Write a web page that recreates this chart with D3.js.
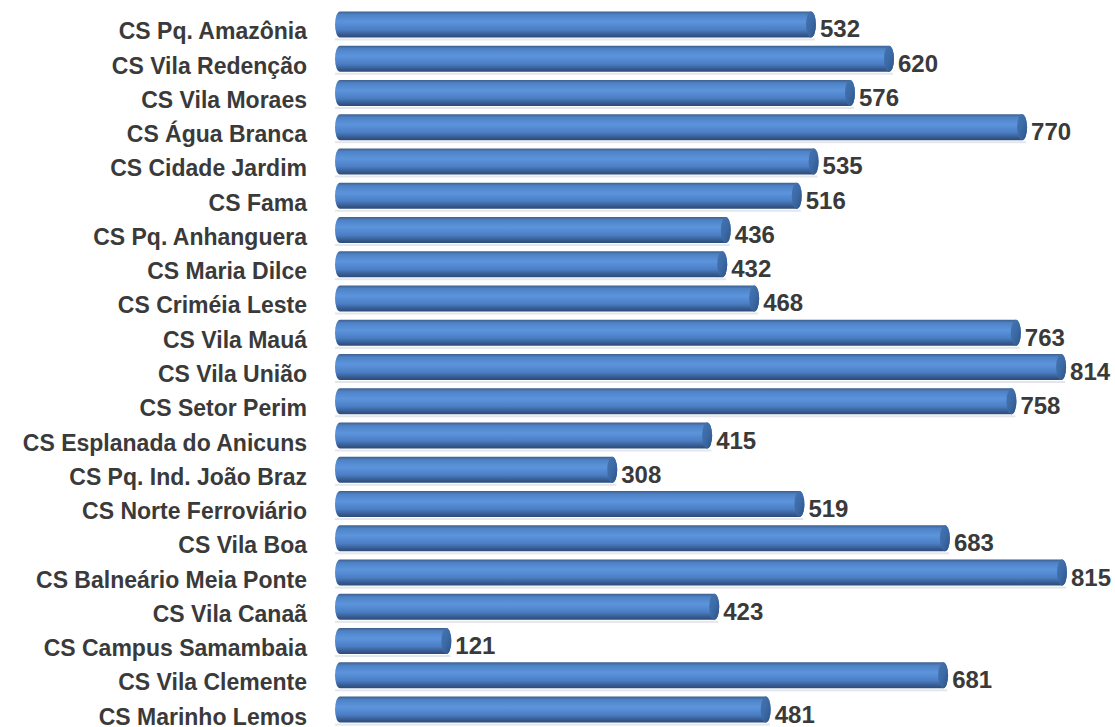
<!DOCTYPE html>
<html><head><meta charset="utf-8">
<script src="https://cdn.jsdelivr.net/npm/d3@7"></script>
<style>body{margin:0;background:#fff;} text{font-family:"Liberation Sans",Arial,sans-serif;font-weight:bold;}</style>
</head><body>
<svg id="c" width="1115" height="727"></svg>
<script>
const categories = ["CS Pq. Amazônia","CS Vila Redenção","CS Vila Moraes","CS Água Branca","CS Cidade Jardim","CS Fama","CS Pq. Anhanguera","CS Maria Dilce","CS Criméia Leste","CS Vila Mauá","CS Vila União","CS Setor Perim","CS Esplanada do Anicuns","CS Pq. Ind. João Braz","CS Norte Ferroviário","CS Vila Boa","CS Balneário Meia Ponte","CS Vila Canaã","CS Campus Samambaia","CS Vila Clemente","CS Marinho Lemos"];
const values = [532,620,576,770,535,516,436,432,468,763,814,758,415,308,519,683,815,423,121,681,481];

const svg = d3.select("#c");
const defs = svg.append("defs");
const g1 = defs.append("linearGradient").attr("id","body").attr("x1",0).attr("y1",0).attr("x2",0).attr("y2",1);
[[0,"#3d5f8c"],[0.12,"#4e82c6"],[0.4,"#5c94dc"],[0.7,"#4b7ec4"],[0.9,"#36598e"],[1,"#2c4a75"]].forEach(([o,c])=>g1.append("stop").attr("offset",o).attr("stop-color",c));
const g2 = defs.append("linearGradient").attr("id","cap").attr("x1",0).attr("y1",0).attr("x2",1).attr("y2",1);
[[0,"#4674b0"],[0.5,"#3c6aa6"],[1,"#2e5283"]].forEach(([o,c])=>g2.append("stop").attr("offset",o).attr("stop-color",c));

const x = d3.scaleLinear().domain([0,815]).range([339,1062]);
const y = d3.scaleBand().domain(categories).range([8,726]).paddingInner(0.24).paddingOuter(0.1);
const h = y.bandwidth();
const rx = 5;

const bars = svg.append("g").selectAll("g").data(categories).join("g");
bars.append("rect").attr("x",x(0)-4).attr("y",d=>y(d)+h+1).attr("height",2)
  .attr("width",(d,i)=>x(values[i])-x(0)+8).attr("fill","#e3e6ea");
bars.append("path").attr("fill","url(#body)").attr("d",(d,i)=>{
  const x0=x(0)-4, xe=x(values[i]), yt=y(d), yb=yt+h;
  return `M${x0+rx},${yt} L${xe},${yt} A${rx},${h/2} 0 0 1 ${xe},${yb} L${x0+rx},${yb} A${rx},${h/2} 0 0 1 ${x0+rx},${yt} Z`;
});
bars.append("ellipse").attr("cx",(d,i)=>x(values[i])).attr("cy",d=>y(d)+h/2)
  .attr("rx",rx).attr("ry",h/2).attr("fill","url(#cap)");

svg.append("g").selectAll("text").data(categories).join("text")
  .attr("x",307).attr("y",d=>y(d)+h/2+15).attr("text-anchor","end")
  .attr("font-size",23).attr("fill","#3a3a3a").text(d=>d);

svg.append("g").selectAll("text").data(values).join("text")
  .attr("x",v=>x(v)+9).attr("y",(v,i)=>y(categories[i])+h/2+13)
  .attr("font-size",24).attr("fill","#3a3a3a").text(v=>v);
</script>
</body></html>
